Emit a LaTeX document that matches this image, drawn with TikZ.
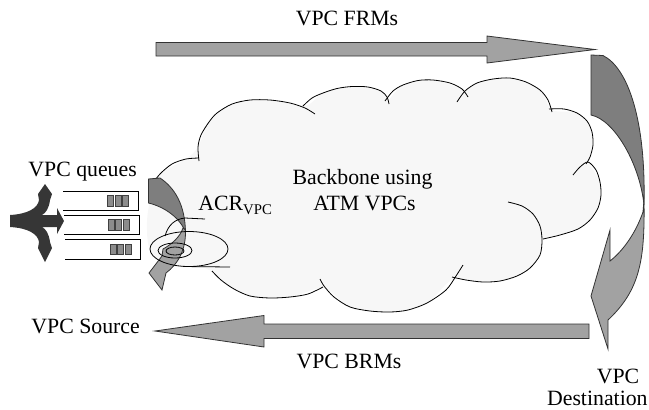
\documentclass[tikz,border=0pt]{standalone}
\usepackage{fontspec}
\setmainfont{Liberation Serif}
\usetikzlibrary{calc}
\definecolor{grayarr}{HTML}{A2A2A2}
\definecolor{grayback}{HTML}{7E7E7E}
\definecolor{grayfork}{HTML}{363636}
\definecolor{graycell}{HTML}{8C8C8C}
\tikzset{
  txt_n/.style = {inner sep=0pt, font=\fontsize{10.9}{13}\selectfont},
  arr_f/.style = {fill=grayarr, draw=black!80, line width=0.4pt},% face avant
  arr_b/.style = {fill=grayback, draw=black!80, line width=0.4pt},% face arriere
  cel_q/.style = {fill=graycell, draw=black!75, line width=0.4pt},% cellule de file
  box_q/.style = {draw=black, line width=0.5pt},% file d'attente
  cld_l/.style = {draw=black, line width=0.4pt}% contour du nuage
}
\begin{document}
\begin{tikzpicture}[x=0.5pt, y=-0.5pt]
\useasboundingbox (0,0) rectangle (649,409);

% nuage
\fill[white!97!black] plot[smooth cycle] coordinates {(151,196) (160,174) (186,159) (198,147) (209,122) (232,104) (270,100) (305,106)
	(323,93) (352,86.5) (381,91) (388,100) (403,85) (433,80) (462,89) (465,92) (477,83) (510,78) (540,90) (552,110)
	(577,113) (592,132) (590,157) (588,162) (600,182) (598,208) (578,229) (543,239) (540,255) (517,276) (483,282)
	(452,280) (427,303) (390,312) (350,307) (324,288) (290,297) (250,296) (221,280) (205,268) (170,266) (150,250) (147,222)};
\draw[cld_l] plot[smooth] coordinates {(151,196) (153,184) (160,174) (172,164) (186,159) (199,158)};
\draw[cld_l] plot[smooth] coordinates {(199,161) (198,147) (201,135) (209,122) (217,113) (232,104) (250,100) (270,100) (290,103) (305,108) (315,114)};
\draw[cld_l] plot[smooth] coordinates {(303,106) (312,98) (323,93) (337,88.5) (352,86.5) (368,87) (381,91) (387,97) (389,104)};
\draw[cld_l] plot[smooth] coordinates {(385,101) (393,91) (403,85) (418,80.5) (433,80) (450,83) (462,89) (468,97)};
\draw[cld_l] plot[smooth] coordinates {(457,102) (465,91) (477,83) (493,79) (510,78) (526,82) (540,90) (548,100) (552,112)};
\draw[cld_l] plot[smooth] coordinates {(549,109) (564,109) (577,113) (587,121) (592,132) (593,145) (590,157) (586,164)};
\draw[cld_l] plot[smooth] coordinates {(573,175) (580,167) (588,162) (596,170) (600,182) (601,195) (598,208) (590,220) (578,229) (560,235) (543,239)};
\draw[cld_l] plot[smooth] coordinates {(508,202) (522,206) (533,214) (540,226) (542,240) (540,255) (530,268) (517,276) (500,281) (483,282) (466,280) (452,277)};
\draw[cld_l] plot[smooth] coordinates {(463,265) (456,276) (446,290) (427,303) (408,310) (390,312) (370,311) (350,307) (334,297) (324,286) (320,279)};
\draw[cld_l] plot[smooth] coordinates {(323,287) (308,294) (290,297) (270,298) (250,296) (234,289) (221,280) (212,271)};

% fleche ACR, face arriere
\draw[arr_b] (148.5,179) -- (160,178) .. controls (175,188) and (185,205) .. (185.5,232)
	.. controls (180,218) and (165,207) .. (148.5,203) -- cycle;
% fleche ACR, face avant
\draw[arr_f] (185.5,230) .. controls (186,250) and (178,264) .. (166,273) -- (162,290) -- (149,273) -- (162,256)
	-- (163,249) .. controls (172,244) and (180,237) .. (183,228) -- cycle;
% spirale
\draw[cld_l] (189,249) ellipse [x radius=39, y radius=17.5];
\draw[cld_l] (175,250.5) ellipse [x radius=17, y radius=7.5];
\draw[cld_l] (175,251) ellipse [x radius=9, y radius=4];
\draw[cld_l] (165,236) .. controls (168,225) and (175,219) .. (185,218) -- (205,219);
\draw[cld_l] (183,266.5) -- (230,267);

% files VPC
\draw[box_q] (63,191) -- (138.5,191) -- (138.5,210.5) -- (63,210.5);
\draw[box_q] (64,215) -- (139,215) -- (139,234.5) -- (64,234.5);
\draw[box_q] (65,239.5) -- (140,239.5) -- (140,259) -- (65,259);
\draw[cel_q] (107.5,195.5) rectangle (113.5,206);
\draw[cel_q] (115,195.5) rectangle (121,206);
\draw[cel_q] (122.5,195.5) rectangle (128.5,206);
\draw[cel_q] (108,219.5) rectangle (114,230);
\draw[cel_q] (115.5,219.5) rectangle (121.5,230);
\draw[cel_q] (123,219.5) rectangle (129,230);
\draw[cel_q] (110,244) rectangle (116,254.5);
\draw[cel_q] (117.5,244) rectangle (123.5,254.5);
\draw[cel_q] (125,244) rectangle (131,254.5);

% ordonnanceur (fleche a trois branches)
\fill[grayfork] (10,215) .. controls (28,214) and (38,208) .. (39,200) -- (38,194) -- (45,184) -- (52,194) -- (50,200)
	.. controls (49,208) and (46,213) .. (42,215) -- (57,215) -- (57,208) -- (64,221) -- (57,234) -- (57,227)
	-- (42,227) .. controls (46,229) and (49,234) .. (50,242) -- (52,248) -- (45,262) -- (38,248) -- (39,242)
	.. controls (38,234) and (28,228) .. (10,227) -- cycle;

% FRM et BRM
\draw[arr_f] (156,42.5) -- (487,42.5) -- (487,36) -- (595,49.5) -- (487,63) -- (487,56) -- (156,56) -- cycle;
\draw[arr_f] (589,324) -- (264,324) -- (264,315.5) -- (155,331) -- (264,347) -- (264,338.5) -- (589,338.5) -- cycle;

% retour a la destination
\draw[arr_b] (591,55) -- (603,55.5) .. controls (628,68) and (646,120) .. (644,205)
	.. controls (640,165) and (615,120) .. (591,115) -- cycle;
\draw[arr_f] (644,200) .. controls (645,260) and (640,290) .. (608,320) -- (608,349) -- (591,296) -- (610,230)
	-- (610,261) .. controls (624,250) and (636,232) .. (643,212) -- cycle;

% textes
\node[txt_n, anchor=base] (frm) at (347,25) {VPC FRMs};
\node[txt_n, anchor=base] (brm) at (349,368) {VPC BRMs};
\node[txt_n, anchor=base west] (src) at (31,333) {VPC Source};
\node[txt_n, anchor=base west] (que) at (28,176) {VPC queues};
\node[txt_n, anchor=base west] (acr) at (198,210) {ACR\raisebox{-2pt}{\fontsize{7.4}{8}\selectfont VPC}};
\node[txt_n, anchor=base] (bb1) at (362.5,184) {Backbone using};
\node[txt_n, anchor=base] (bb2) at (364.5,210) {ATM VPCs};
\node[txt_n, anchor=base] (dst1) at (618,383) {VPC};
\node[txt_n, anchor=base east] (dst2) at (648,405) {Destination};
\end{tikzpicture}
\end{document}
